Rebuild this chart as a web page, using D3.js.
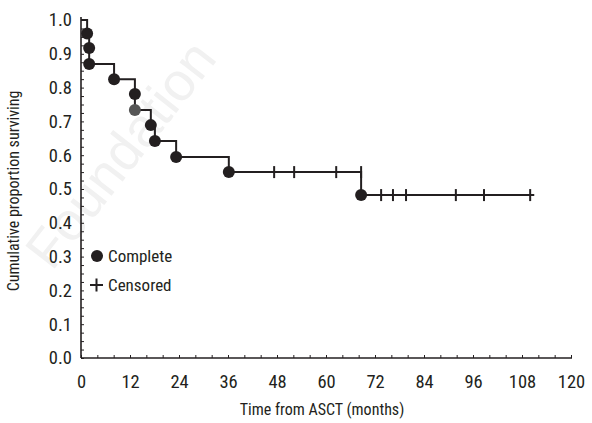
<!DOCTYPE html>
<html>
<head>
<meta charset="utf-8">
<script src="https://cdn.jsdelivr.net/npm/d3@7"></script>
<style>
  html, body { margin: 0; padding: 0; background: #fff; }
  svg { display: block; }
  text { font-family: "Liberation Sans Narrow", "Arial Narrow", "Roboto Condensed", "Liberation Sans", sans-serif; fill: #231f20; }
</style>
</head>
<body>
<script>
// ---- data ----
const eventTimes = [1.5, 2, 2, 8.1, 13.2, 13.2, 17.1, 18.1, 23.3, 36.2, 68.6];
const eventSurv  = [0.96, 0.917, 0.87, 0.825, 0.781, 0.734, 0.689, 0.642, 0.595, 0.55, 0.482];
const eventShade = ["#231f20","#231f20","#231f20","#231f20","#231f20","#555555","#231f20","#231f20","#231f20","#231f20","#231f20"];
const censorTimes = [47.3, 52.2, 62.5, 68.6, 73.5, 76.4, 79.6, 91.8, 98.7, 110];
const followUpEnd = 111;
const xTickValues = [0, 12, 24, 36, 48, 60, 72, 84, 96, 108, 120];
const yTickValues = [0.0, 0.1, 0.2, 0.3, 0.4, 0.5, 0.6, 0.7, 0.8, 0.9, 1.0];
const legendItems = ["Complete", "Censored"];
const xTitle = "Time from ASCT (months)";
const yTitle = "Cumulative proportion surviving";
const watermark = "Foundation";

// ---- layout ----
const W = 592, H = 423;
const margin = {left: 81, right: 21, top: 20, bottom: 65};
const ink = "#231f20";

const svg = d3.select("body").append("svg").attr("width", W).attr("height", H);

// faint watermark
svg.append("text")
  .attr("transform", "translate(52,272) rotate(-52)")
  .style("font-family", "'Liberation Sans', sans-serif")
  .style("font-size", "54px")
  .style("fill", "#f1f1f1")
  .text(watermark);

const x = d3.scaleLinear().domain([0, 120]).range([margin.left, W - margin.right]);
const y = d3.scaleLinear().domain([0, 1]).range([H - margin.bottom, margin.top]);

// x axis
const xAxisG = svg.append("g").attr("transform", `translate(0,${y(0)})`);
xAxisG.call(d3.axisBottom(x).tickValues(d3.range(0, 121, 4)).tickSize(-3).tickFormat(""));
xAxisG.select(".domain").attr("stroke", ink).attr("stroke-width", 1.6).attr("d", `M${x(0)},0H${x(120)+1}`);
xAxisG.selectAll(".tick line").attr("stroke", ink).attr("stroke-width", 1);
const xLab = svg.append("g").attr("transform", `translate(0,${y(0)})`);
xLab.call(d3.axisBottom(x).tickValues(xTickValues).tickSize(0).tickPadding(17).tickFormat(d3.format("d")));
xLab.select(".domain").remove();
xLab.selectAll("text").style("font-size", "18.5px").style("font-family", null).attr("fill", ink);

// y axis
const yAxisG = svg.append("g").attr("transform", `translate(${x(0)},0)`);
yAxisG.call(d3.axisLeft(y).tickValues(d3.range(0, 1.0001, 0.025)).tickSize(-3).tickFormat(""));
yAxisG.select(".domain").attr("stroke", ink).attr("stroke-width", 1.6).attr("d", `M0,${y(1)-3}V${y(0)}`);
yAxisG.selectAll(".tick line").attr("stroke", ink).attr("stroke-width", 1);
const yLab = svg.append("g").attr("transform", `translate(${x(0)},0)`);
yLab.call(d3.axisLeft(y).tickValues(yTickValues).tickSize(0).tickPadding(9).tickFormat(d3.format(".1f")));
yLab.select(".domain").remove();
yLab.selectAll("text").style("font-size", "18.5px").style("font-family", null).attr("fill", ink);

// axis titles
svg.append("text")
  .attr("x", (x(0) + x(120)) / 2 - 4).attr("y", H - 8)
  .attr("text-anchor", "middle").style("font-size", "16px")
  .text(xTitle);
svg.append("text")
  .attr("transform", `translate(19,${(y(0)+y(1))/2 + 2}) rotate(-90)`)
  .attr("text-anchor", "middle").style("font-size", "16px")
  .text(yTitle);

// step curve
const pts = [[0, 1]];
let s = 1;
eventTimes.forEach((t, i) => {
  pts.push([t, s]);
  s = eventSurv[i];
  pts.push([t, s]);
});
pts.push([followUpEnd, s]);
const line = d3.line().x(d => x(d[0])).y(d => y(d[1]));
svg.append("path").datum(pts).attr("d", line)
  .attr("fill", "none").attr("stroke", ink).attr("stroke-width", 2);

// survival just before time t (censor on pre-drop level when ties)
function survBefore(t) {
  let v = 1;
  eventTimes.forEach((et, i) => { if (et < t) v = eventSurv[i]; });
  return v;
}

// censor marks
svg.append("g").selectAll("line").data(censorTimes).join("line")
  .attr("x1", d => x(d)).attr("x2", d => x(d))
  .attr("y1", d => y(survBefore(d)) - 6).attr("y2", d => y(survBefore(d)) + 6)
  .attr("stroke", ink).attr("stroke-width", 2);

// event dots
svg.append("g").selectAll("circle").data(eventTimes).join("circle")
  .attr("cx", d => x(d)).attr("cy", (d, i) => y(eventSurv[i]))
  .attr("r", 6).attr("fill", (d, i) => eventShade[i]);

// legend
const lg = svg.append("g");
lg.append("circle").attr("cx", 97).attr("cy", 256).attr("r", 6).attr("fill", ink);
lg.append("text").attr("x", 108).attr("y", 256).attr("dy", "0.35em").style("font-size", "17px").text(legendItems[0]);
lg.append("path").attr("d", "M90,285H103M96.5,278.5V291.5").attr("stroke", ink).attr("stroke-width", 2);
lg.append("text").attr("x", 108).attr("y", 285).attr("dy", "0.35em").style("font-size", "17px").text(legendItems[1]);
</script>
</body>
</html>
